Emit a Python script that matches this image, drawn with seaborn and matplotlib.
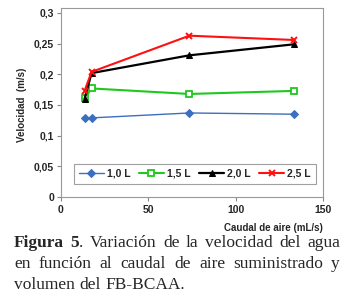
import numpy as np
import pandas as pd
import seaborn as sns
import matplotlib.pyplot as plt

# caudal de aire (mL/s) y velocidad (m/s) por volumen
caudal = [13.5, 17.5, 73.5, 133.5]
v_10 = [0.128, 0.129, 0.137, 0.135]
v_15 = [0.161, 0.177, 0.168, 0.173]
v_20 = [0.160, 0.202, 0.231, 0.249]
v_25 = [0.173, 0.204, 0.263, 0.256]
labels = ['1,0 L', '1,5 L', '2,0 L', '2,5 L']

x_ticks = [0, 50, 100, 150]
y_ticks = [0, 0.05, 0.1, 0.15, 0.2, 0.25, 0.3]

sns.set_style('white')
plt.rcParams['font.family'] = ['Liberation Sans', 'DejaVu Sans']

fig = plt.figure(figsize=(3.54, 3.07), dpi=100)
ax = fig.add_axes([61/354, 1-197/307, 262/354, 189/307])

styles = [
    dict(color='#3d6fbf', marker='D', markersize=4, markerfacecolor='#3d6fbf', markeredgecolor='#3d6fbf'),
    dict(color='#1ec81e', marker='s', markersize=5, markerfacecolor='white', markeredgecolor='#1ec81e', markeredgewidth=1.3),
    dict(color='black', marker='^', markersize=5, markerfacecolor='black', markeredgecolor='black'),
    dict(color='#ff1010', marker='x', markersize=5, markeredgecolor='#ff1010', markeredgewidth=1.4),
]
widths = [1.0, 1.5, 1.6, 1.5]
for vals, lab, st, lw in zip([v_10, v_15, v_20, v_25], labels, styles, widths):
    df = pd.DataFrame({'caudal': caudal, 'vel': vals})
    sns.lineplot(data=df, x='caudal', y='vel', ax=ax, label=lab, linewidth=lw, **st)

ax.set_xlim(0, 150)
ax.set_ylim(0, 0.3 * 189 / 184)
ax.set_xticks(x_ticks)
ax.set_yticks(y_ticks)
ax.set_xticklabels([str(t) for t in x_ticks], fontweight='bold', fontsize=7.5)
ax.set_yticklabels(['0', '0,05', '0,1', '0,15', '0,2', '0,25', '0,3'], fontweight='bold', fontsize=7.5)
ax.tick_params(axis='both', direction='out', length=3, width=0.8, color='#888888', pad=2)
ax.tick_params(axis='x', pad=3)
ax.xaxis.set_ticks_position('bottom')
ax.yaxis.set_ticks_position('left')
for s in ax.spines.values():
    s.set_color('#999999')
    s.set_linewidth(0.8)
ax.set_xlabel('')
ax.set_ylabel('')

fig.text(22/354, 1-105/307, 'Velocidad  (m/s)', rotation=90, ha='center', va='center',
         fontsize=7, fontweight='bold')
fig.text(323/354, 1-228/307, 'Caudal de aire (mL/s)', ha='right', va='center',
         fontsize=7, fontweight='bold')

leg = ax.legend(loc='center', bbox_to_anchor=(0.511, 0.122), ncol=4, frameon=True,
                fancybox=False, handlelength=2.4, handletextpad=0.3, columnspacing=0.8,
                borderpad=0.45, prop={'weight': 'bold', 'size': 7.5})
leg.get_frame().set_edgecolor('#888888')
leg.get_frame().set_linewidth(0.8)

# caption, justified by hand
cap_lines = [
    [[('Figura', 'bold')], [('5', 'bold'), ('.', 'normal')], [('Variación', 'normal')], [('de', 'normal')],
     [('la', 'normal')], [('velocidad', 'normal')], [('del', 'normal')], [('agua', 'normal')]],
    [[('en', 'normal')], [('función', 'normal')], [('al', 'normal')], [('caudal', 'normal')], [('de', 'normal')],
     [('aire', 'normal')], [('suministrado', 'normal')], [('y', 'normal')]],
    [[('volumen', 'normal')], [('del', 'normal')], [('FB-BCAA.', 'normal')]],
]
cap_y = [243, 264, 285]
left_px, right_px = 14, 340
fs = 12.5
fig.canvas.draw()
r = fig.canvas.get_renderer()


def seg_width(txt, wt):
    t = fig.text(0, 0, txt, fontsize=fs, fontweight=wt, family='Liberation Serif')
    w = t.get_window_extent(r).width
    t.remove()
    return w


space_w = seg_width('a b', 'normal') - seg_width('ab', 'normal')
for li, (words, yp) in enumerate(zip(cap_lines, cap_y)):
    wws = [[seg_width(s, wt) for s, wt in w] for w in words]
    total = sum(sum(w) for w in wws)
    justify = li < len(cap_lines) - 1
    gap = (right_px - left_px - total) / (len(words) - 1) if justify else space_w
    x = left_px
    for w, ww in zip(words, wws):
        for (s, wt), sw in zip(w, ww):
            fig.text(x / 354, 1 - yp / 307, s, fontsize=fs, fontweight=wt,
                     family='Liberation Serif', ha='left', va='center')
            x += sw
        x += gap

fig.savefig('out.png', dpi=100)
